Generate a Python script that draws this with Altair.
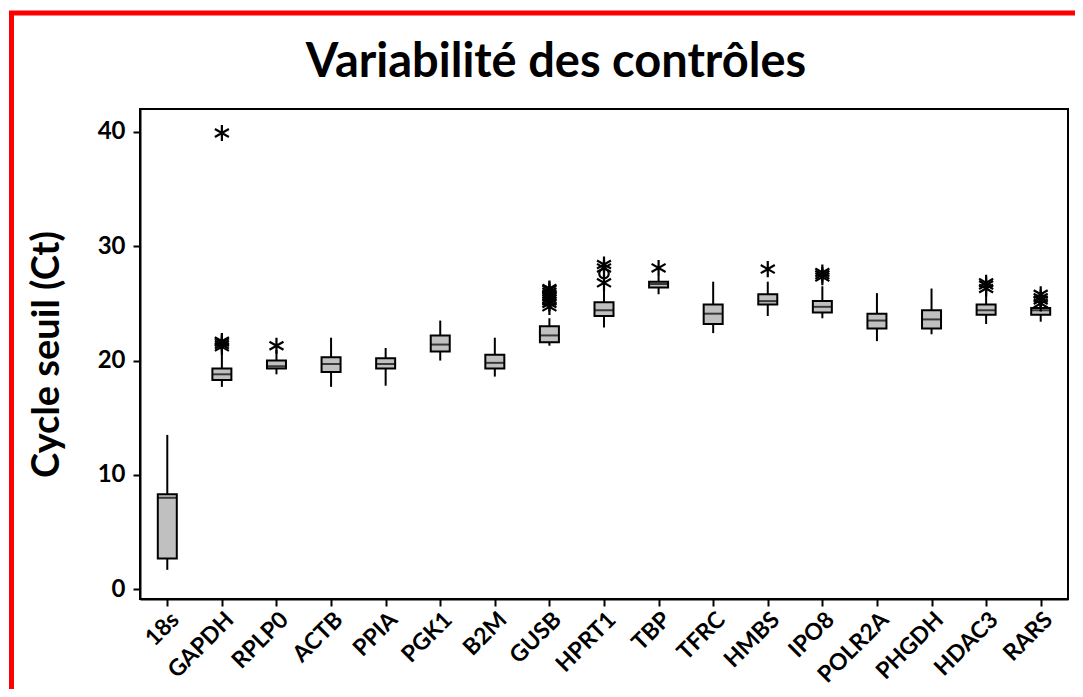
import altair as alt
import pandas as pd

TITLE = "Variabilité des contrôles"
Y_TITLE = "Cycle seuil (Ct)"

genes = ["18s", "GAPDH", "RPLP0", "ACTB", "PPIA", "PGK1", "B2M", "GUSB", "HPRT1",
         "TBP", "TFRC", "HMBS", "IPO8", "POLR2A", "PHGDH", "HDAC3", "RARS"]
whisker_low = [1.7, 17.7, 18.8, 17.7, 17.8, 20.0, 18.6, 21.3, 22.9, 25.8, 22.4, 23.9, 23.7, 21.7, 22.3, 23.2, 23.4]
q1 = [2.7, 18.3, 19.3, 19.0, 19.3, 20.8, 19.3, 21.6, 23.9, 26.4, 23.2, 24.9, 24.2, 22.8, 22.8, 24.0, 24.0]
median = [8.0, 18.8, 19.5, 19.7, 19.7, 21.4, 19.8, 22.2, 24.4, 26.7, 24.1, 25.2, 24.7, 23.5, 23.6, 24.4, 24.4]
q3 = [8.3, 19.3, 20.0, 20.3, 20.2, 22.2, 20.5, 23.0, 25.1, 26.9, 24.9, 25.8, 25.2, 24.1, 24.4, 24.9, 24.6]
whisker_high = [13.5, 20.6, 20.9, 22.0, 21.1, 23.5, 22.0, 23.7, 26.6, 27.4, 26.9, 26.9, 26.5, 25.9, 26.3, 25.9, 24.9]

outlier_gene = ["GAPDH", "GAPDH", "GAPDH", "GAPDH", "GAPDH",
                "RPLP0",
                "GUSB", "GUSB", "GUSB", "GUSB", "GUSB", "GUSB", "GUSB", "GUSB", "GUSB",
                "HPRT1", "HPRT1", "HPRT1", "HPRT1",
                "TBP", "HMBS",
                "IPO8", "IPO8", "IPO8",
                "HDAC3", "HDAC3", "HDAC3",
                "RARS", "RARS", "RARS", "RARS"]
outlier_value = [39.9, 21.2, 21.4, 21.6, 21.7,
                 21.3,
                 24.7, 25.0, 25.2, 25.4, 25.6, 25.8, 26.0, 26.2, 26.3,
                 26.8, 27.6, 28.1, 28.4,
                 28.1, 28.0,
                 27.3, 27.5, 27.7,
                 26.3, 26.6, 26.8,
                 25.0, 25.3, 25.5, 25.8]
outlier_kind = ["star"] * 16 + ["circle"] + ["star"] * 14

boxes = pd.DataFrame({"gene": genes, "lo": whisker_low, "q1": q1, "med": median,
                      "q3": q3, "hi": whisker_high})
outliers = pd.DataFrame({"gene": outlier_gene, "value": outlier_value, "kind": outlier_kind})

ASTERISK = "M0,-1L0,1M-0.87,-0.5L0.87,0.5M-0.87,0.5L0.87,-0.5"
FONT = "Lato"

x_enc = alt.X("gene:N", sort=genes,
              scale=alt.Scale(type="point", domain=genes, padding=0.5),
              axis=alt.Axis(title=None, labelAngle=-45, labelAlign="right",
                            labelBaseline="top", labelPadding=2, labelFontSize=23))
y_scale = alt.Scale(domain=[-0.85, 42.0], nice=False, zero=False)
y_axis = alt.Axis(title=Y_TITLE, values=[0, 10, 20, 30, 40], titlePadding=31,
                  labelPadding=8)

base = alt.Chart(boxes)

whiskers = base.mark_rule(color="black", strokeWidth=2).encode(
    x=x_enc,
    y=alt.Y("lo:Q", scale=y_scale, axis=y_axis),
    y2="hi:Q",
)
box = base.mark_bar(size=19, fill="#c0c0c0", stroke="black", strokeWidth=2).encode(
    x=x_enc,
    y=alt.Y("q1:Q", scale=y_scale, axis=y_axis),
    y2="q3:Q",
)
med = base.mark_tick(color="black", size=19, thickness=2).encode(
    x=x_enc,
    y=alt.Y("med:Q", scale=y_scale, axis=y_axis),
)
outl = alt.Chart(outliers).mark_point(filled=False, stroke="black", strokeWidth=2.2, opacity=1).encode(
    x=x_enc,
    y=alt.Y("value:Q", scale=y_scale, axis=y_axis),
    shape=alt.Shape("kind:N", scale=alt.Scale(domain=["star", "circle"], range=[ASTERISK, "circle"]),
                    legend=None),
    size=alt.Size("kind:N", scale=alt.Scale(domain=["star", "circle"], range=[260, 90]), legend=None),
)

one = pd.DataFrame({"t": [TITLE]})
title = alt.Chart(one).mark_text(font=FONT, fontSize=47, fontWeight="bold", color="black",
                                 align="center", baseline="alphabetic").encode(
    text="t:N", x=alt.value(416), y=alt.value(-32))

red_left = alt.Chart(one).mark_rule(color="#ff0000", strokeWidth=5, strokeCap="butt").encode(
    x=alt.value(-128.5), y=alt.value(-98), y2=alt.value(600))
red_top = alt.Chart(one).mark_rule(color="#ff0000", strokeWidth=5, strokeCap="butt").encode(
    x=alt.value(-131), x2=alt.value(940), y=alt.value(-96))

chart = alt.layer(whiskers, box, med, outl, title, red_left, red_top).properties(
    width=928, height=490, autosize=alt.AutoSizeParams(type="none"),
    padding={"left": 132, "top": 101, "right": 7, "bottom": 90},
).configure_view(
    stroke="black", strokeWidth=2
).configure_axis(
    domainColor="black", domainWidth=2, tickColor="black", tickWidth=2, tickSize=7,
    labelFont=FONT, labelFontWeight="bold", labelFontSize=24, labelColor="black",
    titleFont=FONT, titleFontWeight="bold", titleFontSize=38, titleColor="black",
    grid=False,
)

chart.save("out.html", embed_options={"renderer": "svg", "actions": False})
